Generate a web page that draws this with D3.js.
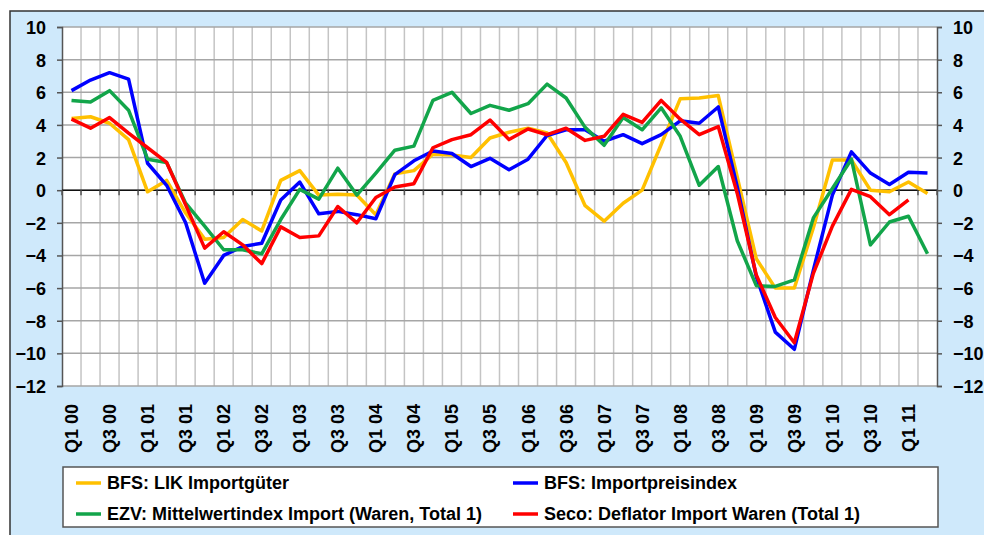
<!DOCTYPE html>
<html>
<head>
<meta charset="utf-8">
<title>Importpreise</title>
<script src="https://cdn.jsdelivr.net/npm/d3@7/dist/d3.min.js"></script>
<style type="text/css">
	body { margin: 0; background: #fff; }
	svg text { font-family: "Liberation Sans", Arial, sans-serif; font-weight: bold; fill: #000; }
	.grid-v line { stroke: #c4c4c4; stroke-width: 1.5; }
	.grid-h line { stroke: #a6a6a6; stroke-width: 1.5; }
	.series { fill: none; stroke-width: 3.5; stroke-linejoin: round; }
</style>
</head>
<body>
<div id="chart"></div>
<script type="text/javascript">
var quarters = ["Q1 00","Q2 00","Q3 00","Q4 00","Q1 01","Q2 01","Q3 01","Q4 01",
	"Q1 02","Q2 02","Q3 02","Q4 02","Q1 03","Q2 03","Q3 03","Q4 03",
	"Q1 04","Q2 04","Q3 04","Q4 04","Q1 05","Q2 05","Q3 05","Q4 05",
	"Q1 06","Q2 06","Q3 06","Q4 06","Q1 07","Q2 07","Q3 07","Q4 07",
	"Q1 08","Q2 08","Q3 08","Q4 08","Q1 09","Q2 09","Q3 09","Q4 09",
	"Q1 10","Q2 10","Q3 10","Q4 10","Q1 11","Q2 11"];

// BFS: LIK Importgüter
var likImport = [4.4, 4.5, 4.1, 3.1, -0.1, 0.6, -1.4, -3.0, -2.9, -1.8, -2.5, 0.6,
	1.2, -0.3, -0.25, -0.3, -1.5, 1.0, 1.2, 2.2, 2.15, 2.0, 3.2, 3.55,
	3.8, 3.5, 1.7, -0.95, -1.9, -0.8, 0.0, 2.8, 5.6, 5.65, 5.8, 0.8,
	-4.2, -6.0, -6.0, -2.3, 1.85, 1.85, 0.0, -0.1, 0.5, -0.2];

// BFS: Importpreisindex
var importPreis = [6.1, 6.75, 7.2, 6.8, 1.65, 0.3, -2.0, -5.7, -4.0, -3.45, -3.25, -0.6,
	0.5, -1.45, -1.3, -1.5, -1.75, 0.95, 1.8, 2.4, 2.25, 1.45, 1.95, 1.25,
	1.9, 3.35, 3.7, 3.7, 3.0, 3.4, 2.85, 3.4, 4.25, 4.1, 5.1, 0.2,
	-5.3, -8.7, -9.75, -4.9, -0.3, 2.35, 1.05, 0.35, 1.1, 1.05];

// EZV: Mittelwertindex Import (Waren, Total 1)
var ezvMittelwert = [5.5, 5.4, 6.1, 4.9, 1.9, 1.7, -0.8, -2.2, -3.65, -3.65, -3.9, -1.8,
	0.05, -0.55, 1.35, -0.3, 1.05, 2.45, 2.7, 5.5, 6.0, 4.7, 5.2, 4.9,
	5.3, 6.5, 5.65, 3.85, 2.75, 4.45, 3.7, 5.05, 3.3, 0.3, 1.45, -3.1,
	-5.85, -5.9, -5.5, -1.7, 0.1, 1.9, -3.35, -1.95, -1.6, -3.9];

// Seco: Deflator Import Waren (Total 1)
var secoDeflator = [4.35, 3.8, 4.45, 3.5, 2.6, 1.7, -0.9, -3.55, -2.55, -3.35, -4.5, -2.25,
	-2.9, -2.8, -1.0, -2.0, -0.45, 0.2, 0.4, 2.6, 3.1, 3.4, 4.3, 3.1,
	3.75, 3.4, 3.8, 3.05, 3.3, 4.65, 4.15, 5.5, 4.35, 3.4, 3.9, -0.2,
	-5.2, -7.8, -9.35, -5.1, -2.2, 0.05, -0.4, -1.5, -0.6, null];

var yTicks = [10, 8, 6, 4, 2, 0, -2, -4, -6, -8, -10, -12];
var xTickLabels = quarters.filter(function(q, i){ return i % 2 == 0; });

var seriesNames = ["BFS: LIK Importgüter", "BFS: Importpreisindex",
	"EZV: Mittelwertindex Import (Waren, Total 1)", "Seco: Deflator Import Waren (Total 1)"];
var seriesColors = ["#ffc000", "#0000ff", "#12a54a", "#ff0000"];
var seriesValues = [likImport, importPreis, ezvMittelwert, secoDeflator];

var width = 984, height = 535;
var plot = { left: 62, right: 937, top: 27, bottom: 386 };

var svg = d3.select("#chart").append("svg")
	.attr("width", width)
	.attr("height", height);

// outer frame
svg.append("rect")
	.attr("x", 10).attr("y", 11)
	.attr("width", 990).attr("height", 540)
	.attr("fill", "#cfe9fb")
	.attr("stroke", "#333").attr("stroke-width", 1.5);

svg.append("rect")
	.attr("x", plot.left).attr("y", plot.top)
	.attr("width", plot.right - plot.left).attr("height", plot.bottom - plot.top)
	.attr("fill", "#fff");

var x = d3.scaleBand().domain(quarters).range([plot.left, plot.right]).padding(0);
var y = d3.scaleLinear().domain([-12, 10]).range([plot.bottom, plot.top]);
var bw = x.bandwidth();

// vertical grid on category boundaries
var bounds = quarters.map(function(q){ return x(q); }).concat([plot.right]);
svg.append("g").attr("class", "grid-v")
	.selectAll("line").data(bounds.slice(1, -1)).enter().append("line")
	.attr("x1", function(d){ return d; }).attr("x2", function(d){ return d; })
	.attr("y1", plot.top).attr("y2", plot.bottom);

svg.append("g").attr("class", "grid-h")
	.selectAll("line").data(yTicks).enter().append("line")
	.attr("x1", plot.left).attr("x2", plot.right)
	.attr("y1", function(d){ return y(d); }).attr("y2", function(d){ return y(d); });

// y axes left + right
var yLeft = svg.append("g")
	.attr("transform", "translate(" + plot.left + ",0)")
	.call(d3.axisLeft(y).tickValues(yTicks).tickSize(5).tickPadding(11));
var yRight = svg.append("g")
	.attr("transform", "translate(" + plot.right + ",0)")
	.call(d3.axisRight(y).tickValues(yTicks).tickSize(5).tickPadding(11));
[yLeft, yRight].forEach(function(g){
	g.select(".domain").attr("stroke", "#555").attr("stroke-width", 1.5);
	g.selectAll(".tick line").attr("stroke", "#555").attr("stroke-width", 1.5);
	g.selectAll("text").attr("font-size", 18).attr("font-family", null).attr("dy", "0.36em");
});

// category axis sits on the zero line
var xAxis = svg.append("g")
	.attr("transform", "translate(0," + y(0) + ")");
xAxis.append("line")
	.attr("x1", plot.left).attr("x2", plot.right)
	.attr("stroke", "#111").attr("stroke-width", 1.5);
xAxis.selectAll(".tk").data(bounds).enter().append("line")
	.attr("class", "tk")
	.attr("x1", function(d){ return d; }).attr("x2", function(d){ return d; })
	.attr("y1", 0).attr("y2", 5)
	.attr("stroke", "#555").attr("stroke-width", 1.5);

// rotated quarter labels below the plot
svg.append("g").selectAll("text")
	.data(xTickLabels).enter().append("text")
	.attr("transform", function(d){
		return "translate(" + (x(d) + bw / 2) + ",404) rotate(-90)";
	})
	.attr("text-anchor", "end")
	.attr("dy", "0.36em")
	.attr("font-size", 18)
	.text(function(d){ return d; });

var line = d3.line()
	.defined(function(d){ return d != null; })
	.x(function(d, i){ return x(quarters[i]) + bw / 2; })
	.y(function(d){ return y(d); });

svg.append("g").selectAll("path")
	.data(seriesValues).enter().append("path")
	.attr("class", "series")
	.attr("stroke", function(d, i){ return seriesColors[i]; })
	.attr("d", line);

// legend
var legend = svg.append("g");
legend.append("rect")
	.attr("x", 63).attr("y", 467).attr("width", 875).attr("height", 60)
	.attr("fill", "#fff").attr("stroke", "#555").attr("stroke-width", 1.5);

var legendPos = [{x: 76, y: 483}, {x: 513, y: 483}, {x: 76, y: 514}, {x: 513, y: 514}];
var items = legend.selectAll(".item").data(seriesNames).enter().append("g")
	.attr("class", "item")
	.attr("transform", function(d, i){ return "translate(" + legendPos[i].x + "," + legendPos[i].y + ")"; });
items.append("line")
	.attr("x1", 0).attr("x2", 25)
	.attr("stroke", function(d, i){ return seriesColors[i]; })
	.attr("stroke-width", 3.5);
items.append("text")
	.attr("x", 31).attr("dy", "0.36em")
	.attr("font-size", 18)
	.text(function(d){ return d; });
</script>
</body>
</html>
